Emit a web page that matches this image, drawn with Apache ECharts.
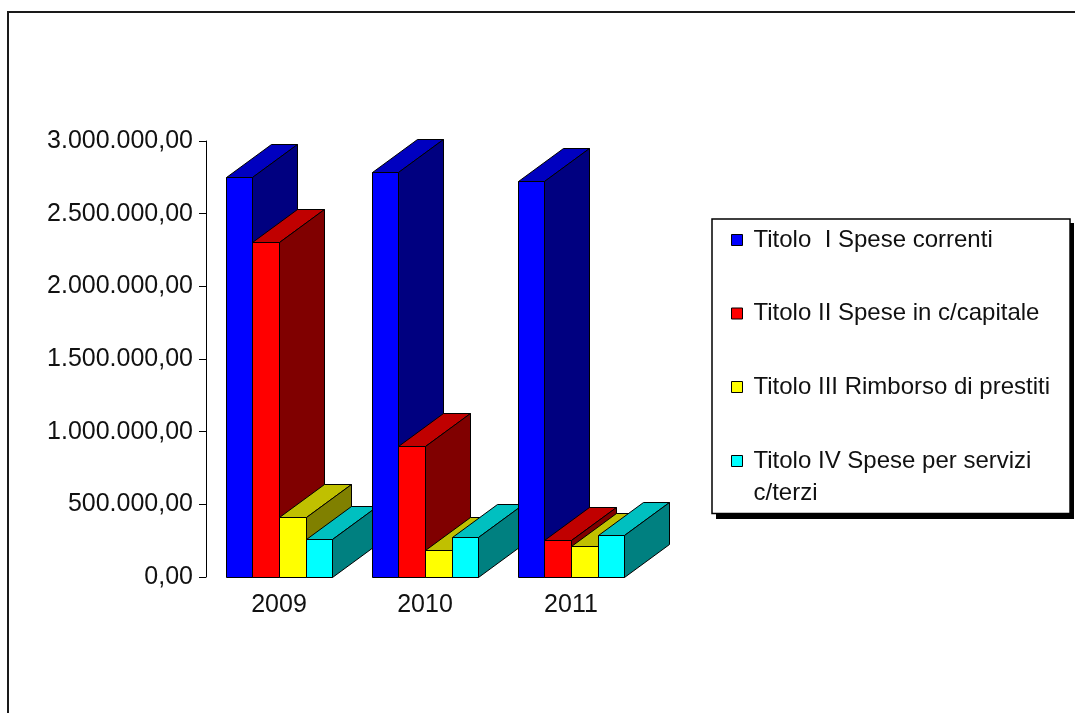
<!DOCTYPE html>
<html>
<head>
<meta charset="utf-8">
<script src="https://cdn.jsdelivr.net/npm/echarts@6/dist/echarts.min.js"></script>
<style>
  html, body { margin: 0; padding: 0; background: #fff; overflow: hidden; }
  #chart { position: absolute; left: 0; top: 0; width: 1075px; height: 713px; }
  /* cornice del riquadro (continua oltre la finestra) */
  #frame { position: absolute; left: 7px; top: 11px; width: 2000px; height: 2000px;
           border-left: 2px solid #1a1a1a; border-top: 2px solid #1a1a1a; pointer-events: none; }
</style>
</head>
<body>
<div id="chart"></div>
<div id="frame"></div>
<script>
// dati
const years = ["2009", "2010", "2011"];
const seriesNames = [
  "Titolo  I Spese correnti",
  "Titolo II Spese in c/capitale",
  "Titolo III Rimborso di prestiti",
  "Titolo IV Spese per servizi c/terzi"
];
const titoloI   = [2750000, 2790000, 2725000];
const titoloII  = [2303000,  904000,  255000];
const titoloIII = [ 415000,  186000,  215000];
const titoloIV  = [ 259000,  273000,  287000];
const yMax = 3000000;
const yStep = 500000;

// colori stile Excel: fronte, cima, fianco
const FRONT = ["#0000ff", "#ff0000", "#ffff00", "#00ffff"];
const TOP   = ["#0000c0", "#c00000", "#c0c000", "#00c0c0"];
const SIDE  = ["#000080", "#800000", "#808000", "#008080"];

const FONT = "'Liberation Sans', Arial, sans-serif";
const BAR_FRAC = 0.182;   // larghezza barra / banda categoria
const DEPTH_X = 0.308;    // profondità 3D in frazioni di banda
const DEPTH_Y = 0.228;

function fmtIt(v){
  const s = Math.round(v).toString().replace(/\B(?=(\d{3})+(?!\d))/g, ".");
  return s + ",00";
}

function renderBar(params, api){
  const s = params.seriesIndex;
  const cat = api.value(0);
  const val = api.value(1);
  const base = api.coord([cat, 0]);
  const top = api.coord([cat, val]);
  const band = api.size([1, 0])[0];
  const w = band * BAR_FRAC;
  const dx = Math.round(band * DEPTH_X);
  const dy = -Math.round(band * DEPTH_Y);

  const x0 = Math.round(base[0] - 2 * w + s * w) + 0.5;
  const x1 = Math.round(base[0] - 2 * w + (s + 1) * w) + 0.5;
  const yb = Math.round(base[1]) + 0.5;
  const yt = Math.round(top[1]) + 0.5;
  const z2 = cat * 10 + s;   // ordine di disegno per categoria, poi per serie
  const line = { stroke: "#000", lineWidth: 1, lineJoin: "miter" };

  return {
    type: "group",
    children: [
      { type: "polygon", z2,
        shape: { points: [[x0, yt], [x1, yt], [x1, yb], [x0, yb]] },
        style: Object.assign({ fill: FRONT[s] }, line) },
      { type: "polygon", z2,
        shape: { points: [[x0, yt], [x1, yt], [x1 + dx, yt + dy], [x0 + dx, yt + dy]] },
        style: Object.assign({ fill: TOP[s] }, line) },
      { type: "polygon", z2,
        shape: { points: [[x1, yt], [x1 + dx, yt + dy], [x1 + dx, yb + dy], [x1, yb]] },
        style: Object.assign({ fill: SIDE[s] }, line) }
    ]
  };
}

const allValues = [titoloI, titoloII, titoloIII, titoloIV];

const legendCommon = {
  orient: "vertical",
  icon: "rect",
  itemWidth: 11,
  itemHeight: 11,
  selectedMode: false,
  itemStyle: { borderColor: "#000", borderWidth: 1 }
};

const option = {
  animation: false,
  backgroundColor: "#fff",
  // ombra nera sotto il riquadro della legenda
  graphic: [{
    type: "rect",
    left: 716, top: 223, z: 0, silent: true,
    shape: { width: 358, height: 296 },
    style: { fill: "#000" }
  }],
  grid: { left: 206, top: 141, width: 438, height: 436, containLabel: false },
  xAxis: {
    type: "category",
    data: years,
    axisLine: { show: false },
    axisTick: { show: false },
    splitLine: { show: false },
    axisLabel: { margin: 16, fontSize: 25, fontFamily: FONT, color: "#111" }
  },
  yAxis: {
    type: "value",
    min: 0,
    max: yMax,
    interval: yStep,
    splitLine: { show: false },
    axisLine: { show: true, lineStyle: { color: "#000", width: 1 } },
    axisTick: { show: true, length: 7, lineStyle: { color: "#000", width: 1 } },
    axisLabel: { margin: 13, fontSize: 25, fontFamily: FONT, color: "#111", formatter: fmtIt }
  },
  legend: [
    Object.assign({}, legendCommon, {
      data: seriesNames.slice(0, 3),
      left: 712,
      top: 219,
      z: 5,
      padding: [9, 20, 114.5, 19],
      itemGap: 49.5,
      backgroundColor: "#fff",
      borderColor: "#000",
      borderWidth: 1.5,
      formatter: (n) => "{t|" + n + "}",
      textStyle: {
        padding: [0, 0, 0, 6],
        rich: { t: { fontSize: 24, lineHeight: 32, fontFamily: FONT, color: "#111" } }
      }
    }),
    Object.assign({}, legendCommon, {
      data: [seriesNames[3]],
      left: 731,
      top: 449,
      z: 6,
      padding: 0,
      formatter: () => "{t|Titolo IV Spese per servizi}\n{t|c/terzi}",
      textStyle: {
        padding: [32, 0, 0, 6],
        rich: { t: { fontSize: 24, lineHeight: 32, fontFamily: FONT, color: "#111" } }
      }
    })
  ],
  series: allValues.map((vals, s) => ({
    name: seriesNames[s],
    type: "custom",
    renderItem: renderBar,
    itemStyle: { color: FRONT[s] },
    encode: { x: 0, y: 1 },
    clip: false,
    data: vals.map((v, i) => [i, v])
  }))
};

const chart = echarts.init(document.getElementById("chart"), null, { renderer: "canvas" });
chart.setOption(option);
window.addEventListener("resize", () => chart.resize());
</script>
</body>
</html>
